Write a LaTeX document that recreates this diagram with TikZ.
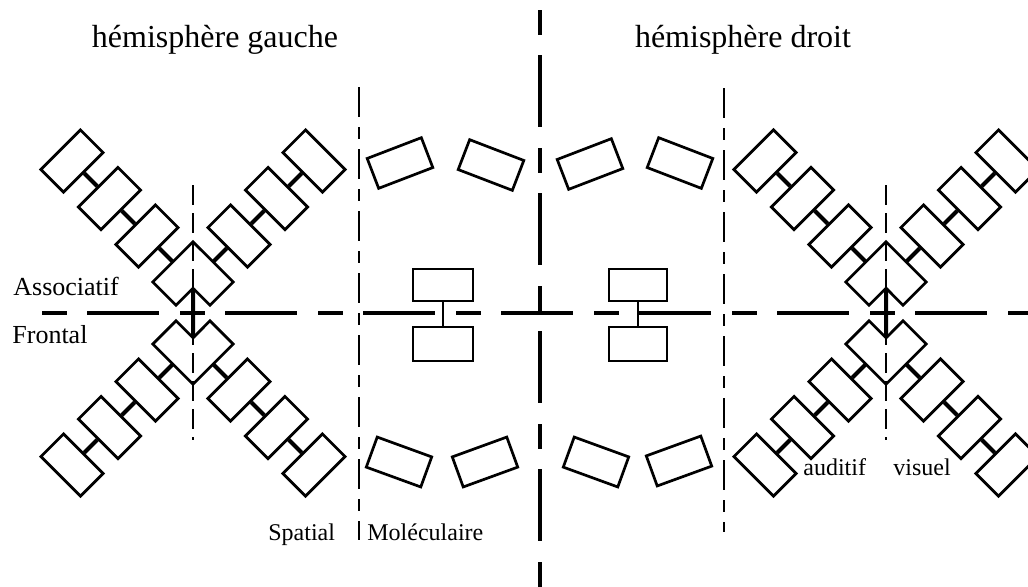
\documentclass[tikz,border=0pt]{standalone}
\usepackage{fontspec}
\setmainfont{Liberation Serif}

\begin{document}
\begin{tikzpicture}[x=0.5pt, y=-0.5pt,
    cell/.style={draw, rectangle, line width=1.35pt, inner sep=0pt, minimum width=28pt, minimum height=16pt},
    ghost/.style={rectangle, inner sep=0pt, minimum width=28pt, minimum height=16pt},
    tile/.style={cell, minimum width=29pt},
    block/.style={cell, minimum width=30pt},
    cellline/.style={line width=1.35pt},
    link/.style={line width=2pt},
    bigaxis/.style={line width=2.2pt, dash pattern=on 12.5pt off 10pt on 36pt off 10.5pt},
    zoneaxis/.style={line width=1.1pt, dash pattern=on 15pt off 5pt on 6pt off 5pt},
    xaxis/.style={line width=1pt, dash pattern=on 10pt off 4pt},
    title/.style={font=\fontsize{16}{18}\selectfont},
    lab/.style={font=\fontsize{12}{14}\selectfont, inner sep=0pt, anchor=base west},
    sidelab/.style={lab, font=\fontsize{13}{15}\selectfont}]

    \clip (0,0) rectangle (1028,586);

    % titles
    \node[title] (tgauche) at (215,40) {hémisphère gauche};
    \node[title] (tdroit) at (743,40) {hémisphère droit};

    % axes
    \coordinate (hS) at (42,313);
    \coordinate (hE) at (1040,313);
    \coordinate (vS) at (540,10);
    \coordinate (vE) at (540,600);
    \coordinate (zLS) at (359,87);
    \coordinate (zLE) at (359,540);
    \coordinate (zRS) at (724,88);
    \coordinate (zRE) at (724,532);
    \draw[bigaxis] (hS) -- (hE); % Associatif / Frontal
    \draw[bigaxis] (vS) -- (vE); % gauche / droit
    \draw[zoneaxis] (zLS) -- (zLE); % Spatial / Moleculaire
    \draw[zoneaxis] (zRS) -- (zRE);

    % labels
    \node[sidelab] (assoc) at (13,295) {Associatif};
    \node[sidelab] (front) at (12,343) {Frontal};
    \node[lab] (spat) at (268,540) {Spatial};
    \node[lab] (molec) at (367,540) {Moléculaire};
    \node[lab] (audit) at (803,475) {auditif};
    \node[lab] (visu) at (893,475) {visuel};

    % the two crosses
    \foreach \cx/\nm in {193/L, 886/R}{
        \foreach \arm/\dx/\dy/\py/\rot in {ul/-1/-1/-31/45, ur/1/-1/-31/-45, dl/-1/1/31/135, dr/1/1/31/225}{
            \node[ghost, rotate=\rot] (\nm\arm1) at (\cx+\dx*8.5, 313+\py+\dy*8.5) {};
            \foreach \k/\a in {2/46, 3/83.5, 4/121}
                \node[cell, rotate=\rot] (\nm\arm\k) at (\cx+\dx*\a, 313+\py+\dy*\a) {};
            \foreach \k/\j in {2/1, 3/2, 4/3}
                \draw[link] (\nm\arm\k.south) -- (\nm\arm\j.north);
        }
        \coordinate (\nm nu) at (intersection of \nm ul1.south west--\nm ul1.south east and \nm ur1.south west--\nm ur1.south east);
        \coordinate (\nm nd) at (intersection of \nm dl1.south west--\nm dl1.south east and \nm dr1.south west--\nm dr1.south east);
        \coordinate (\nm top) at (\cx,185);
        \coordinate (\nm bot) at (\cx,440);
        \draw[cellline] (\nm ul1.north east) -- (\nm ul1.north west) -- (\nm ul1.south west) -- (\nm nu)
            -- (\nm ur1.south east) -- (\nm ur1.north east) -- cycle;
        \draw[cellline] (\nm dl1.north west) -- (\nm dl1.north east) -- (\nm dl1.south east) -- (\nm nd)
            -- (\nm dr1.south west) -- (\nm dr1.north west) -- cycle;
        \draw[link] (\nm nu) -- (\nm nd);
        \draw[xaxis] (\nm top) -- (\nm bot);
    }

    % tilted cells
    \node[tile, rotate=21] (su1) at (400,163) {};
    \node[tile, rotate=-21] (su2) at (491,165) {};
    \node[tile, rotate=21] (su3) at (590,164) {};
    \node[tile, rotate=-21] (su4) at (680,163) {};
    \node[tile, rotate=-20] (sd1) at (399,462) {};
    \node[tile, rotate=20] (sd2) at (485,462) {};
    \node[tile, rotate=-20] (sd3) at (596,462) {};
    \node[tile, rotate=20] (sd4) at (679,461) {};

    % middle pairs
    \node[block] (mLu) at (443,285) {};
    \node[block, minimum height=17pt] (mLd) at (443,344) {};
    \node[block, minimum width=29pt] (mRu) at (638,285) {};
    \node[block, minimum width=29pt, minimum height=17pt] (mRd) at (638,344) {};
    \draw[cellline] (mLu) -- (mLd);
    \draw[cellline] (mRu) -- (mRd);

\end{tikzpicture}
\end{document}
